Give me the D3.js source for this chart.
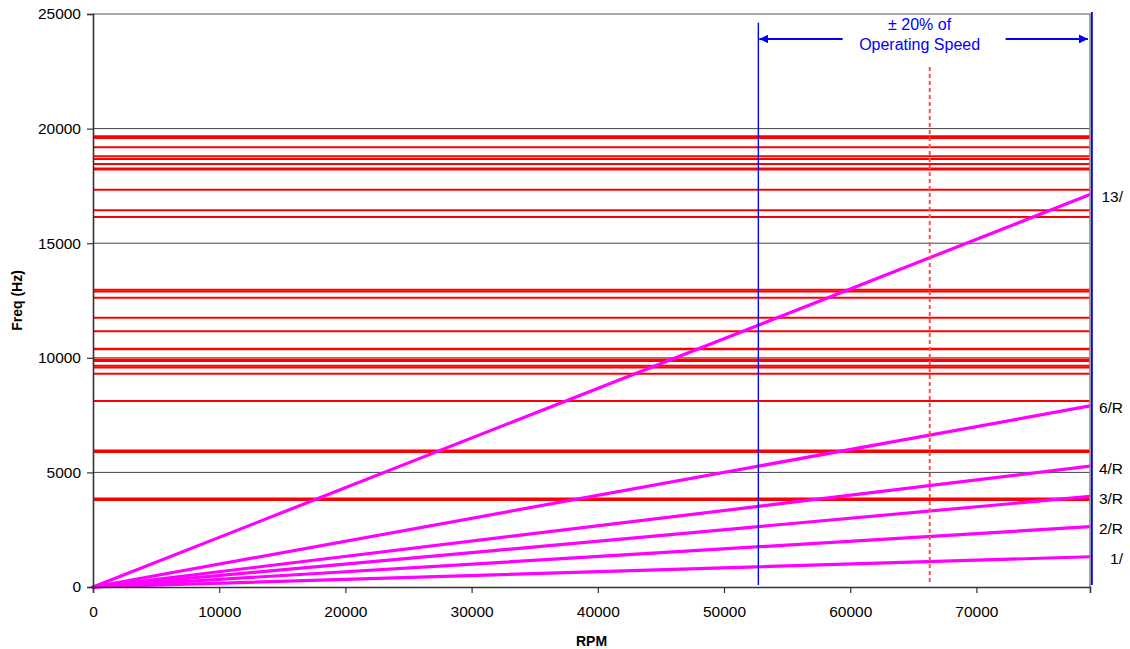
<!DOCTYPE html>
<html>
<head>
<meta charset="utf-8">
<script src="https://cdn.jsdelivr.net/npm/d3@7/dist/d3.min.js"></script>
<style>
  html, body { margin: 0; padding: 0; background: #fff; }
  svg { display: block; font-family: "Liberation Sans", Arial, sans-serif; }
</style>
</head>
<body>
<svg id="chart" width="1130" height="649"></svg>
<script>
// Campbell-style interference diagram: rotor modes vs. engine orders

// axis ticks
const rpmTicks = [0, 10000, 20000, 30000, 40000, 50000, 60000, 70000];
const freqTicks = [0, 5000, 10000, 15000, 20000, 25000];
const rpmMax = 79000;
const freqMax = 25000;

// engine orders: label and frequency reached at the top of the speed range
const orderLabels = ["1/", "2/R", "3/R", "4/R", "6/R", "13/"];
const orderEndFreq = [1320, 2630, 3950, 5270, 7900, 17120];

// natural frequencies (Hz)
const modeFreqs = [
  19590, 19670, 19184, 18670, 18790, 18455, 18215, 18260,
  17334, 16435, 16143,
  12890, 12965, 12622, 11750, 11156, 10370, 10400,
  9855, 9930, 9575, 9650, 9306, 8110,
  5885, 5955, 3795, 3860
];

// operating speed band (RPM)
const bandLow = 52720;
const bandHigh = 79150;
const operatingRpm = 66300;
const bandTextRpm = 65500;
const bandText = ["\u00B1 20% of", "Operating Speed"];

const svg = d3.select("#chart");
const margin = { top: 14, right: 40, bottom: 62, left: 93 };
const W = 1130, H = 649;
const iw = W - margin.left - margin.right;
const ih = H - margin.top - margin.bottom;

const x = d3.scaleLinear().domain([0, rpmMax]).range([margin.left, margin.left + iw]);
const y = d3.scaleLinear().domain([0, freqMax]).range([margin.top + ih, margin.top]);

const g = svg.append("g");

// horizontal gridlines
g.append("g").selectAll("line")
  .data(freqTicks.filter(d => d > 0 && d < freqMax))
  .join("line")
  .attr("x1", x(0)).attr("x2", x(rpmMax))
  .attr("y1", d => y(d)).attr("y2", d => y(d))
  .attr("stroke", "#444").attr("stroke-width", 1);

// natural frequency lines
g.append("g").selectAll("line")
  .data(modeFreqs)
  .join("line")
  .attr("x1", x(0)).attr("x2", x(rpmMax))
  .attr("y1", d => y(d)).attr("y2", d => y(d))
  .attr("stroke", "#ff0000").attr("stroke-width", 2);

// engine order lines
const orders = orderLabels.map((l, i) => ({ label: l, end: orderEndFreq[i] }));
g.append("g").selectAll("line")
  .data(orders)
  .join("line")
  .attr("x1", x(0)).attr("y1", y(0))
  .attr("x2", x(rpmMax)).attr("y2", d => y(d.end))
  .attr("stroke", "#ff00ff").attr("stroke-width", 3.2)
  .attr("stroke-linecap", "round");

// plot area border (top and right)
g.append("path")
  .attr("d", `M${x(0)},${y(freqMax)}H${x(rpmMax)}V${y(0)}`)
  .attr("fill", "none").attr("stroke", "#8a8a8a").attr("stroke-width", 1.6);

// axes
const axisFont = 15.5;
const yAxis = g.append("g")
  .attr("transform", `translate(${x(0)},0)`)
  .call(d3.axisLeft(y).tickValues(freqTicks).tickFormat(d3.format("d")).tickSize(6).tickPadding(6));
const xAxis = g.append("g")
  .attr("transform", `translate(0,${y(0)})`)
  .call(d3.axisBottom(x).tickValues(rpmTicks).tickFormat(d3.format("d")).tickSize(6).tickPadding(13));
[xAxis, yAxis].forEach(a => {
  a.select(".domain").attr("stroke", "#333").attr("stroke-width", 1.6);
  a.selectAll(".tick line").attr("stroke", "#333").attr("stroke-width", 1.2);
  a.selectAll(".tick text").attr("fill", "#000").style("font-size", axisFont + "px")
    .style("font-family", '"Liberation Sans", Arial, sans-serif');
});

// operating speed band markers
const blue = "#0000ff";
g.append("line")
  .attr("x1", x(bandLow)).attr("x2", x(bandLow))
  .attr("y1", y(24620)).attr("y2", y(0) - 2)
  .attr("stroke", blue).attr("stroke-width", 1.4);
g.append("line")
  .attr("x1", x(bandHigh)).attr("x2", x(bandHigh))
  .attr("y1", y(freqMax) - 2).attr("y2", y(0) - 2)
  .attr("stroke", blue).attr("stroke-width", 1.8);
g.append("line")
  .attr("x1", x(operatingRpm)).attr("x2", x(operatingRpm))
  .attr("y1", y(22690)).attr("y2", y(0) - 2)
  .attr("stroke", "#ff5050").attr("stroke-width", 2)
  .attr("stroke-dasharray", "4,3");

// band annotation text
const midX = x(bandTextRpm);
const txt = g.append("text")
  .attr("x", midX).attr("text-anchor", "middle")
  .attr("fill", blue).style("font-size", "16px");
txt.append("tspan").attr("x", midX).attr("y", y(24540) + 5.5).text(bandText[0]);
txt.append("tspan").attr("x", midX).attr("y", y(23650) + 5.5).text(bandText[1]);

// double-headed arrow split around the text
const defs = svg.append("defs");
defs.append("marker")
  .attr("id", "ah").attr("viewBox", "0 0 10 10")
  .attr("refX", 10).attr("refY", 5)
  .attr("markerWidth", 9).attr("markerHeight", 9)
  .attr("markerUnits", "userSpaceOnUse")
  .attr("orient", "auto")
  .append("path").attr("d", "M0,0L10,5L0,10Z").attr("fill", blue);
const arrowY = y(23910);
g.append("line")
  .attr("x1", midX - 77).attr("x2", x(bandLow) + 1)
  .attr("y1", arrowY).attr("y2", arrowY)
  .attr("stroke", blue).attr("stroke-width", 1.8)
  .attr("marker-end", "url(#ah)");
g.append("line")
  .attr("x1", midX + 86).attr("x2", x(bandHigh) - 4)
  .attr("y1", arrowY).attr("y2", arrowY)
  .attr("stroke", blue).attr("stroke-width", 1.8)
  .attr("marker-end", "url(#ah)");

// engine order labels at the right edge
g.append("g").selectAll("text")
  .data(orders)
  .join("text")
  .attr("x", x(rpmMax) + 33)
  .attr("y", d => y(d.end) + 2)
  .attr("dy", "0.35em")
  .attr("text-anchor", "end")
  .attr("fill", "#000")
  .style("font-size", "15.5px")
  .text(d => d.label);

// axis titles
g.append("text")
  .attr("x", x(0) + iw / 2).attr("y", 646)
  .attr("text-anchor", "middle")
  .style("font-size", "14px").style("font-weight", "bold")
  .text("RPM");
g.append("text")
  .attr("transform", `translate(22,${margin.top + ih / 2}) rotate(-90)`)
  .attr("text-anchor", "middle")
  .style("font-size", "14px").style("font-weight", "bold")
  .text("Freq (Hz)");
</script>
</body>
</html>
